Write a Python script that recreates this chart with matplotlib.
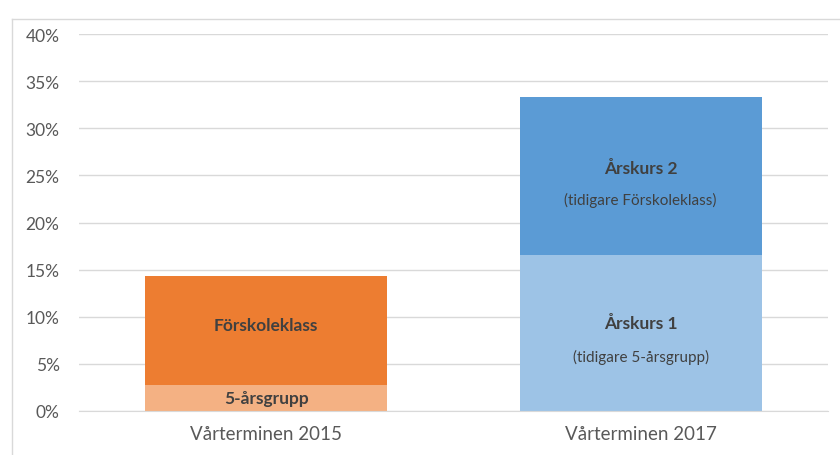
import matplotlib.pyplot as plt
from matplotlib.lines import Line2D

plt.rcParams['font.family'] = ['Lato', 'DejaVu Sans']

categories = ['Vårterminen 2015', 'Vårterminen 2017']
bottom_values = [0.028, 0.166]
top_values = [0.115, 0.167]
bottom_colors = ['#F4B183', '#9DC3E6']
top_colors = ['#ED7D31', '#5B9BD5']
bottom_names = ['5-årsgrupp', 'Årskurs 1']
top_names = ['Förskoleklass', 'Årskurs 2']
bottom_notes = ['', '(tidigare 5-årsgrupp)']
top_notes = ['', '(tidigare Förskoleklass)']
yticks = [0, 0.05, 0.10, 0.15, 0.20, 0.25, 0.30, 0.35, 0.40]

fig = plt.figure(figsize=(8.4, 4.56), dpi=100)
ax = fig.add_axes([79 / 840, 1 - 412 / 456, 749 / 840, 377 / 456])

# light frame round the chart area
fc = '#D9D9D9'
fig.add_artist(Line2D([12 / 840, 12 / 840], [0, 1 - 20 / 456], color=fc, lw=1, transform=fig.transFigure))
fig.add_artist(Line2D([12 / 840, 1], [1 - 20 / 456, 1 - 20 / 456], color=fc, lw=1, transform=fig.transFigure))

x = range(len(categories))
width = 0.647
ax.bar(x, bottom_values, width, color=bottom_colors, zorder=2)
ax.bar(x, top_values, width, bottom=bottom_values, color=top_colors, zorder=2)

txt = '#404040'
bold_size = 12.5
note_size = 11
for i in x:
    b, t = bottom_values[i], top_values[i]
    yb = b / 2
    yt = b + t / 2
    if bottom_notes[i]:
        ax.annotate(bottom_names[i], (i, yb), xytext=(0, 7), textcoords='offset points',
                    ha='center', va='center', fontsize=bold_size, fontweight='bold', color=txt)
        ax.annotate(bottom_notes[i], (i, yb), xytext=(0, -17), textcoords='offset points',
                    ha='center', va='center', fontsize=note_size, color=txt)
    else:
        ax.annotate(bottom_names[i], (i, yb), xytext=(0, 0), textcoords='offset points',
                    ha='center', va='center', fontsize=bold_size, fontweight='bold', color=txt)
    if top_notes[i]:
        ax.annotate(top_names[i], (i, yt), xytext=(0, 6), textcoords='offset points',
                    ha='center', va='center', fontsize=bold_size, fontweight='bold', color=txt)
        ax.annotate(top_notes[i], (i, yt), xytext=(0, -17), textcoords='offset points',
                    ha='center', va='center', fontsize=note_size, color=txt)
    else:
        ax.annotate(top_names[i], (i, yt), xytext=(0, 4), textcoords='offset points',
                    ha='center', va='center', fontsize=bold_size, fontweight='bold', color=txt)

ax.set_xlim(-0.5, 1.5)
ax.set_ylim(0, 0.40)
ax.set_yticks(yticks)
ax.set_yticklabels([f'{int(round(v * 100))}%' for v in yticks])
ax.set_xticks(list(x))
ax.set_xticklabels(categories)
ax.tick_params(axis='y', length=0, pad=14, labelsize=12.5, labelcolor='#595959')
ax.tick_params(axis='x', length=0, pad=10, labelsize=13.5, labelcolor='#595959')
ax.grid(axis='y', color='#D9D9D9', lw=1, zorder=0)
for s in ['top', 'right', 'left']:
    ax.spines[s].set_visible(False)
ax.spines['bottom'].set_color('#D9D9D9')
ax.spines['bottom'].set_zorder(3)

fig.savefig('out.png', dpi=100)
